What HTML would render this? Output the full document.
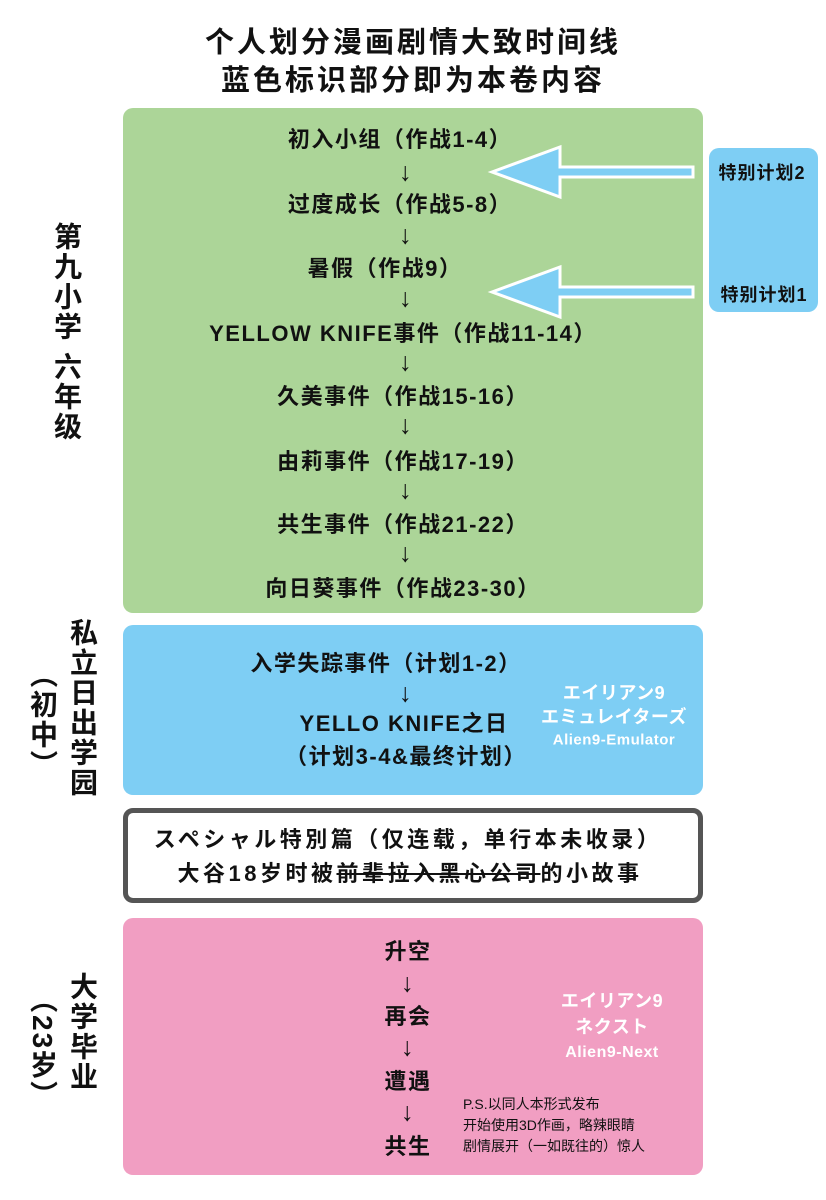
<!DOCTYPE html>
<html><head><meta charset="utf-8"><style>
body{margin:0;width:826px;height:1200px;background:#fff;position:relative;font-family:"Liberation Sans","Noto Sans CJK SC",sans-serif;overflow:hidden}
.a{position:absolute;white-space:nowrap}
.c{position:absolute;transform:translate(-50%,-50%);white-space:nowrap;font-size:22px;font-weight:bold;color:#111;letter-spacing:1.5px}
.box{position:absolute;border-radius:10px}
.v{position:absolute;writing-mode:vertical-rl;font-size:28px;font-weight:bold;color:#111;letter-spacing:2px}
.w{color:#fff;font-size:18px;letter-spacing:0.5px}
.ar{font-size:26px;font-weight:normal}
</style></head><body>
<div class="c" style="left:413px;top:40px;font-size:29px;letter-spacing:3px">个人划分漫画剧情大致时间线</div>
<div class="c" style="left:413px;top:78px;font-size:29px;letter-spacing:3px">蓝色标识部分即为本卷内容</div>

<div class="box" style="left:123px;top:108px;width:580px;height:505px;background:#acd598"></div>
<div class="box" style="left:709px;top:148px;width:109px;height:164px;background:#7ecef4"></div>
<div class="box" style="left:123px;top:625px;width:580px;height:170px;background:#7ecef4"></div>
<div class="box" style="left:123px;top:808px;width:570px;height:85px;border:5px solid #555;background:#fff"></div>
<div class="box" style="left:123px;top:918px;width:580px;height:257px;background:#f19ec2"></div>

<svg class="a" style="left:0;top:0" width="826" height="1200">
<g fill="#7ecef4" stroke="#fff" stroke-width="3">
<polygon points="492,172 560,147 560,167 693,167 693,177 560,177 560,197"/>
<polygon points="492,292 560,267 560,287 693,287 693,297 560,297 560,317"/>
</g>
</svg>

<div class="c" style="left:762px;top:172px;font-size:18px;letter-spacing:1px">特别计划2</div>
<div class="c" style="left:764px;top:294px;font-size:18px;letter-spacing:1px">特别计划1</div>

<div class="c" style="left:400px;top:138px">初入小组（作战1-4）</div>
<div class="c ar" style="left:406px;top:172px">↓</div>
<div class="c" style="left:400px;top:203px">过度成长（作战5-8）</div>
<div class="c ar" style="left:406px;top:235px">↓</div>
<div class="c" style="left:385px;top:267px">暑假（作战9）</div>
<div class="c ar" style="left:406px;top:298px">↓</div>
<div class="c" style="left:403px;top:332px">YELLOW KNIFE事件（作战11-14）</div>
<div class="c ar" style="left:406px;top:362px">↓</div>
<div class="c" style="left:403px;top:395px">久美事件（作战15-16）</div>
<div class="c ar" style="left:406px;top:425px">↓</div>
<div class="c" style="left:403px;top:460px">由莉事件（作战17-19）</div>
<div class="c ar" style="left:406px;top:490px">↓</div>
<div class="c" style="left:403px;top:523px">共生事件（作战21-22）</div>
<div class="c ar" style="left:406px;top:553px">↓</div>
<div class="c" style="left:403px;top:587px">向日葵事件（作战23-30）</div>

<div class="c" style="left:386px;top:662px">入学失踪事件（计划1-2）</div>
<div class="c ar" style="left:406px;top:693px">↓</div>
<div class="c" style="left:404px;top:722px">YELLO KNIFE之日</div>
<div class="c" style="left:406px;top:755px">（计划3-4&amp;最终计划）</div>
<div class="c w" style="left:614px;top:692px">エイリアン9</div>
<div class="c w" style="left:614px;top:716px">エミュレイターズ</div>
<div class="c w" style="left:614px;top:740px;font-size:15px">Alien9-Emulator</div>

<div class="c" style="left:408px;top:838px;letter-spacing:3.5px">スペシャル特別篇（仅连载，单行本未收录）</div>
<div class="c" style="left:410px;top:872px;letter-spacing:3.5px">大谷18岁时被<span style="text-decoration:line-through;text-decoration-thickness:2px">前辈拉入黑心公司</span>的小故事</div>

<div class="c" style="left:408px;top:950px">升空</div>
<div class="c ar" style="left:408px;top:983px">↓</div>
<div class="c" style="left:408px;top:1015px">再会</div>
<div class="c ar" style="left:408px;top:1047px">↓</div>
<div class="c" style="left:408px;top:1080px">遭遇</div>
<div class="c ar" style="left:408px;top:1112px">↓</div>
<div class="c" style="left:408px;top:1145px">共生</div>
<div class="c w" style="left:612px;top:1000px">エイリアン9</div>
<div class="c w" style="left:612px;top:1026px">ネクスト</div>
<div class="c w" style="left:612px;top:1053px;font-size:16px">Alien9-Next</div>
<div class="a" style="left:463px;top:1094px;font-size:14px;line-height:21px;color:#111">P.S.以同人本形式发布<br>开始使用3D作画，略辣眼睛<br>剧情展开（一如既往的）惊人</div>

<div class="v" style="left:46px;top:222px">第九小学 六年级</div>
<div class="v" style="left:62px;top:618px">私立日出学园</div>
<div class="v" style="left:22px;top:660px">（初中）</div>
<div class="v" style="left:62px;top:972px">大学毕业</div>
<div class="v" style="left:22px;top:985px">（23岁）</div>
</body></html>
